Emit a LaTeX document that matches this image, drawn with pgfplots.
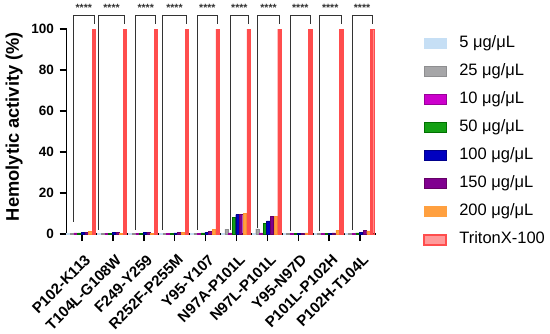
\documentclass[border=0pt]{standalone}
\usepackage{fontspec}
\setmainfont{Liberation Sans}
\usepackage{pgfplots}
\pgfplotsset{compat=1.18}
\definecolor{cA}{HTML}{C6DFF5}
\definecolor{cB}{HTML}{A6A6A8}
\definecolor{cBd}{HTML}{8E8E90}
\definecolor{cC}{HTML}{CC00CC}
\definecolor{cCd}{HTML}{990099}
\definecolor{cD}{HTML}{14A014}
\definecolor{cDd}{HTML}{007000}
\definecolor{cE}{HTML}{0000C0}
\definecolor{cEd}{HTML}{00008B}
\definecolor{cF}{HTML}{80008F}
\definecolor{cFd}{HTML}{660066}
\definecolor{cG}{HTML}{FFA040}
\definecolor{cGd}{HTML}{FF9030}
\definecolor{cH}{HTML}{FF4D4D}
\definecolor{cHl}{HTML}{FF9A9A}
\definecolor{brk}{HTML}{333333}
\newcommand\sigbrk[3]{%
  \draw[brk, line width=0.8bp] ([xshift=#2bp]axis cs:#1,#3) |- ([xshift=12bp]axis cs:#1,106.8) -- ([xshift=12bp]axis cs:#1,102.4);
  \path ([xshift=#2bp]axis cs:#1,106.8) -- node[pos=0.5, font=\fontsize{10.5bp}{11bp}\selectfont\bfseries, text=brk, inner sep=0pt] {****} ([xshift=12bp]axis cs:#1,113.5);
}
\begin{document}
\begin{tikzpicture}
\path[use as bounding box] (-66.5bp,-100bp) rectangle (483.5bp,234bp);
\begin{axis}[
  scale only axis,
  width=309bp, height=205bp,
  xmin=-0.5, xmax=9.5,
  ymin=0, ymax=100,
  clip=false,
  axis x line*=bottom, axis y line*=left,
  axis line style={line width=1.5bp, -},
  tick align=outside,
  major tick length=7bp,
  tick style={line width=1.5bp, black},
  xtick={0,...,9},
  xticklabels={P102-K113,T104L-G108W,F249-Y259,R252F-P255M,Y95-Y107,N97A-P101L,N97L-P101L,Y95-N97D,P101L-P102H,P102H-T104L},
  xticklabel shift=11bp,
  xticklabel style={xshift=2bp, rotate=45, anchor=north east, font=\fontsize{15bp}{17bp}\selectfont\bfseries, inner sep=1bp},
  ytick={0,20,40,60,80,100},
  yticklabel style={xshift=-2bp, font=\fontsize{13.5bp}{15bp}\selectfont\bfseries},
  /pgf/number format/assume math mode=true,
  ylabel={Hemolytic activity (\%)},
  ylabel style={font=\fontsize{18.3bp}{20bp}\selectfont\bfseries, yshift=2bp, xshift=5bp},
  ybar, bar width=3.3bp,
  legend cell align=left,
  legend style={draw=none, fill=none, at={(1.154,0.97)}, anchor=north west,
    inner sep=0pt, row sep=11.5bp, column sep=12bp,
    font=\fontsize{16.5bp}{18bp}\selectfont,
    nodes={inner sep=0pt, text height=12bp, text depth=4.5bp}},
]
\addplot[ybar, bar shift=-13.7bp, fill=cA, draw=cA, line width=0.3bp,
  legend image code/.code={\draw[fill=cA,draw=cA] (0bp,-5bp) rectangle (22bp,5bp);}]
  coordinates {(0,0.3) (1,0.3) (2,0.3) (3,0.3) (4,0.3) (5,0.4) (6,0.4) (7,0.2) (8,0.2) (9,0.3)};
\addplot[ybar, bar shift=-10bp, fill=cB, draw=cBd, line width=0.3bp,
  legend image code/.code={\draw[fill=cB,draw=cBd,line width=0.8bp] (0bp,-5bp) rectangle (22bp,5bp);}]
  coordinates {(0,0.3) (1,0.3) (2,0.3) (3,0.3) (4,0.3) (5,2.4) (6,2.5) (7,0.2) (8,0.2) (9,0.3)};
\addplot[ybar, bar shift=-6.4bp, fill=cC, draw=cCd, line width=0.3bp,
  legend image code/.code={\draw[fill=cC,draw=cCd,line width=1.2bp] (0bp,-5bp) rectangle (22bp,5bp);}]
  coordinates {(0,0.5) (1,0.4) (2,0.4) (3,0.3) (4,0.4) (5,0.5) (6,0.5) (7,0.2) (8,0.2) (9,0.4)};
\addplot[ybar, bar shift=-2.7bp, fill=cD, draw=cDd, line width=0.3bp,
  legend image code/.code={\draw[fill=cD,draw=cDd,line width=1.2bp] (0bp,-5bp) rectangle (22bp,5bp);}]
  coordinates {(0,0.5) (1,0.4) (2,0.4) (3,0.3) (4,0.6) (5,8.0) (6,5.3) (7,0.3) (8,0.3) (9,0.5)};
\addplot[ybar, bar shift=0.9bp, fill=cE, draw=cEd, line width=0.3bp,
  legend image code/.code={\draw[fill=cE,draw=cEd,line width=0.8bp] (0bp,-5bp) rectangle (22bp,5bp);}]
  coordinates {(0,0.8) (1,0.7) (2,0.7) (3,0.5) (4,0.9) (5,9.5) (6,6.4) (7,0.3) (8,0.4) (9,0.7)};
\addplot[ybar, bar shift=4.6bp, fill=cF, draw=cFd, line width=0.3bp,
  legend image code/.code={\draw[fill=cF,draw=cFd,line width=0.8bp] (0bp,-5bp) rectangle (22bp,5bp);}]
  coordinates {(0,0.9) (1,0.7) (2,0.7) (3,0.8) (4,1.3) (5,9.5) (6,8.6) (7,0.3) (8,0.5) (9,1.8)};
\addplot[ybar, bar shift=8.3bp, fill=cG, draw=cGd, line width=0.3bp,
  legend image code/.code={\draw[fill=cG,draw=cG] (0bp,-5bp) rectangle (22bp,5bp);}]
  coordinates {(0,1.3) (1,0.4) (2,0.4) (3,0.9) (4,2.2) (5,10.0) (6,8.6) (7,0.6) (8,1.8) (9,1.5)};
\addplot[ybar, bar shift=12bp, fill=cH, draw=cH, line width=0.3bp,
  legend image code/.code={\draw[fill=cHl,draw=cH,line width=2bp] (0bp,-5bp) rectangle (22bp,5bp);}]
  coordinates {(0,100) (1,100) (2,100) (3,100) (4,100) (5,100) (6,100) (7,100) (8,100) (9,100)};
\legend{5 μg/μL,25 μg/μL,10 μg/μL,50 μg/μL,100 μg/μL,150 μg/μL,200 μg/μL,TritonX-100}
\sigbrk{0}{-8.3}{6}
\sigbrk{1}{-14.6}{2}
\sigbrk{2}{-8.1}{2}
\sigbrk{3}{-12.4}{2}
\sigbrk{4}{-8.3}{2}
\sigbrk{5}{-6.2}{2}
\sigbrk{6}{-9.7}{3}
\sigbrk{7}{-8}{1.5}
\sigbrk{8}{-9.9}{1.5}
\sigbrk{9}{-8.1}{2}
\end{axis}
\end{tikzpicture}
\end{document}
